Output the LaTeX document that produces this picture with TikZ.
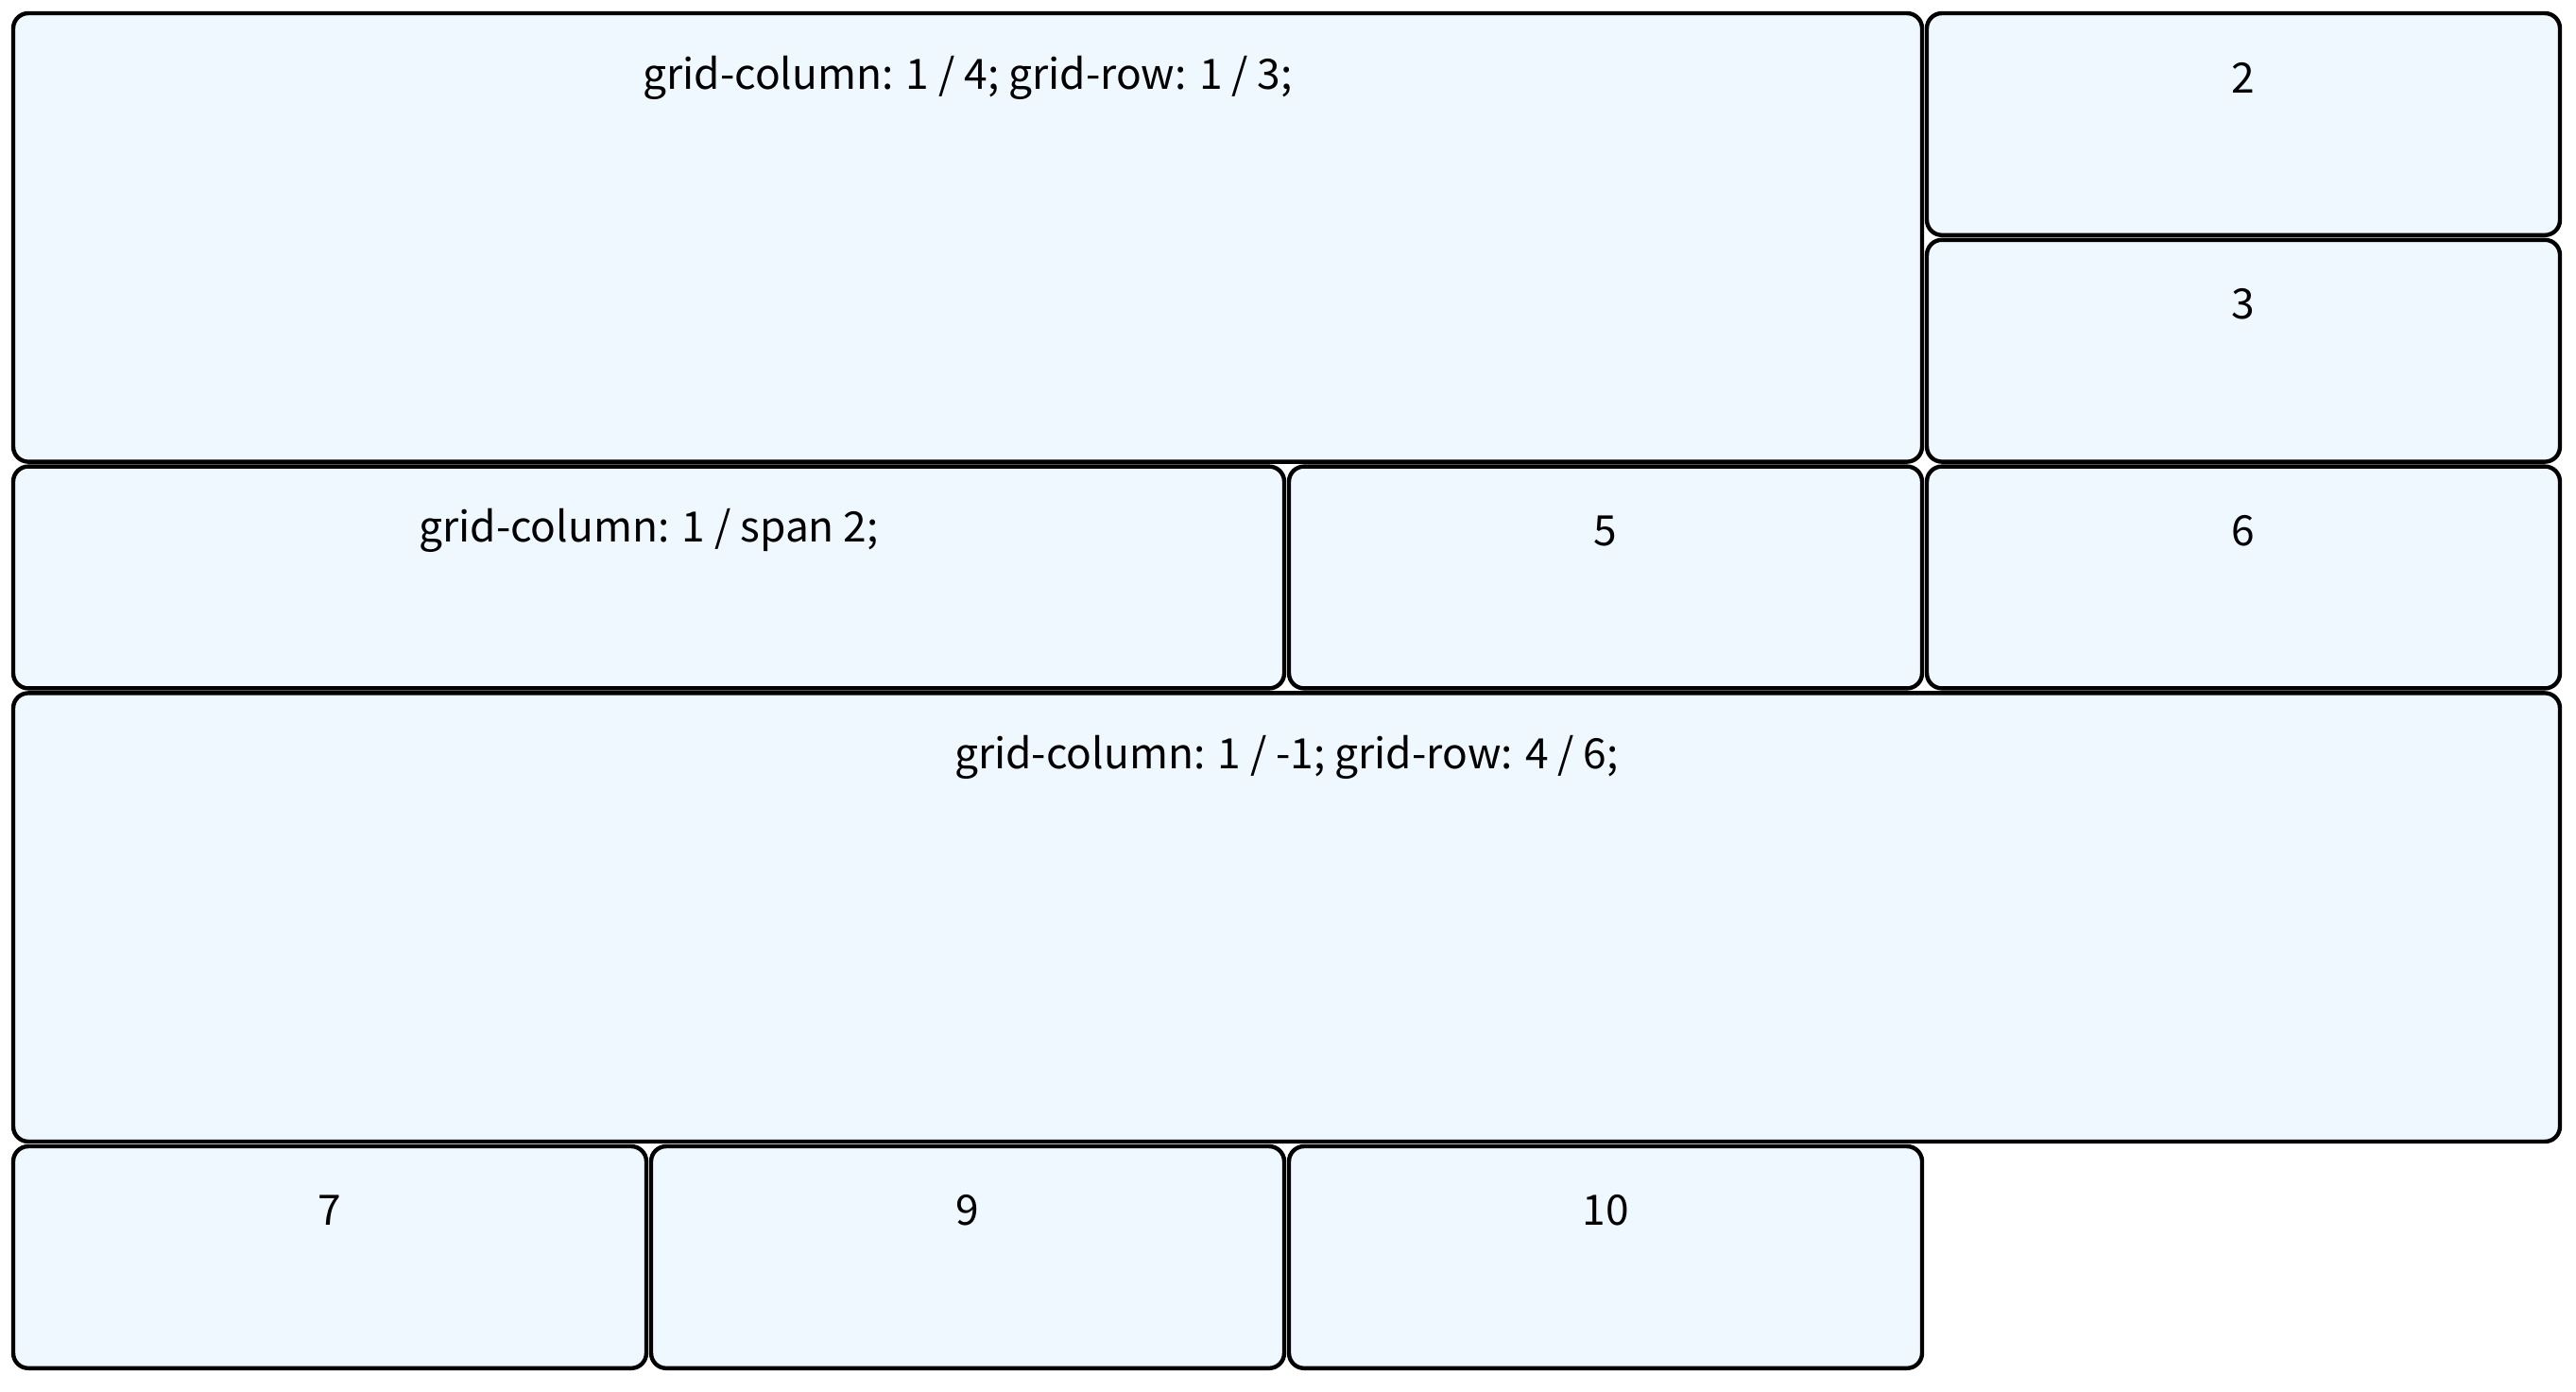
\documentclass[tikz,border=0pt]{standalone}
\usepackage{fontspec}
\usepackage{xcolor}
\usepackage{tikz}
\usetikzlibrary{positioning}
\newfontfamily\cellfont{Noto Sans CJK KR}
\definecolor{cellblue}{RGB}{239,247,255}

\begin{document}
\begin{tikzpicture}[node distance=0.05cm,
  cell/.style={draw, line width=1.25pt, rounded corners=0.16cm, fill=cellblue,
    inner sep=0pt, outer sep=0pt, minimum width=6.70cm, minimum height=2.348cm},
  tag/.style={font=\cellfont\fontsize{12.6}{15}\selectfont, anchor=center}
]
\useasboundingbox (0,0) rectangle (27.26,-14.72);

% first two rows
\node[cell, anchor=north west, minimum width=20.20cm, minimum height=4.746cm] (c1) at (0.14,-0.14) {};
\node[cell, right=of c1.north east, anchor=north west] (c2) {};
\node[cell, below=of c2] (c3) {};

% third row
\node[cell, below=of c1.south west, anchor=north west, minimum width=13.45cm] (c4) {};
\node[cell, right=of c4] (c5) {};
\node[cell, right=of c5] (c6) {};

% full width block
\node[cell, below=of c4.south west, anchor=north west, minimum width=26.95cm, minimum height=4.746cm] (c8) {};

% last row
\node[cell, below=of c8.south west, anchor=north west] (c7) {};
\node[cell, right=of c7] (c9) {};
\node[cell, right=of c9] (c10) {};

% labels
\node[tag] (t1) at ([yshift=-0.68cm]c1.north) {grid-column: 1 / 4; grid-row: 1 / 3;};
\node[tag] (t2) at ([yshift=-0.68cm]c2.north) {2};
\node[tag] (t3) at ([yshift=-0.68cm]c3.north) {3};
\node[tag] (t4) at ([yshift=-0.68cm]c4.north) {grid-column: 1 / span 2;};
\node[tag] (t5) at ([yshift=-0.68cm]c5.north) {5};
\node[tag] (t6) at ([yshift=-0.68cm]c6.north) {6};
\node[tag] (t8) at ([yshift=-0.68cm]c8.north) {grid-column: 1 / -1; grid-row: 4 / 6;};
\node[tag] (t7) at ([yshift=-0.68cm]c7.north) {7};
\node[tag] (t9) at ([yshift=-0.68cm]c9.north) {9};
\node[tag] (t10) at ([yshift=-0.68cm]c10.north) {10};
\end{tikzpicture}
\end{document}
